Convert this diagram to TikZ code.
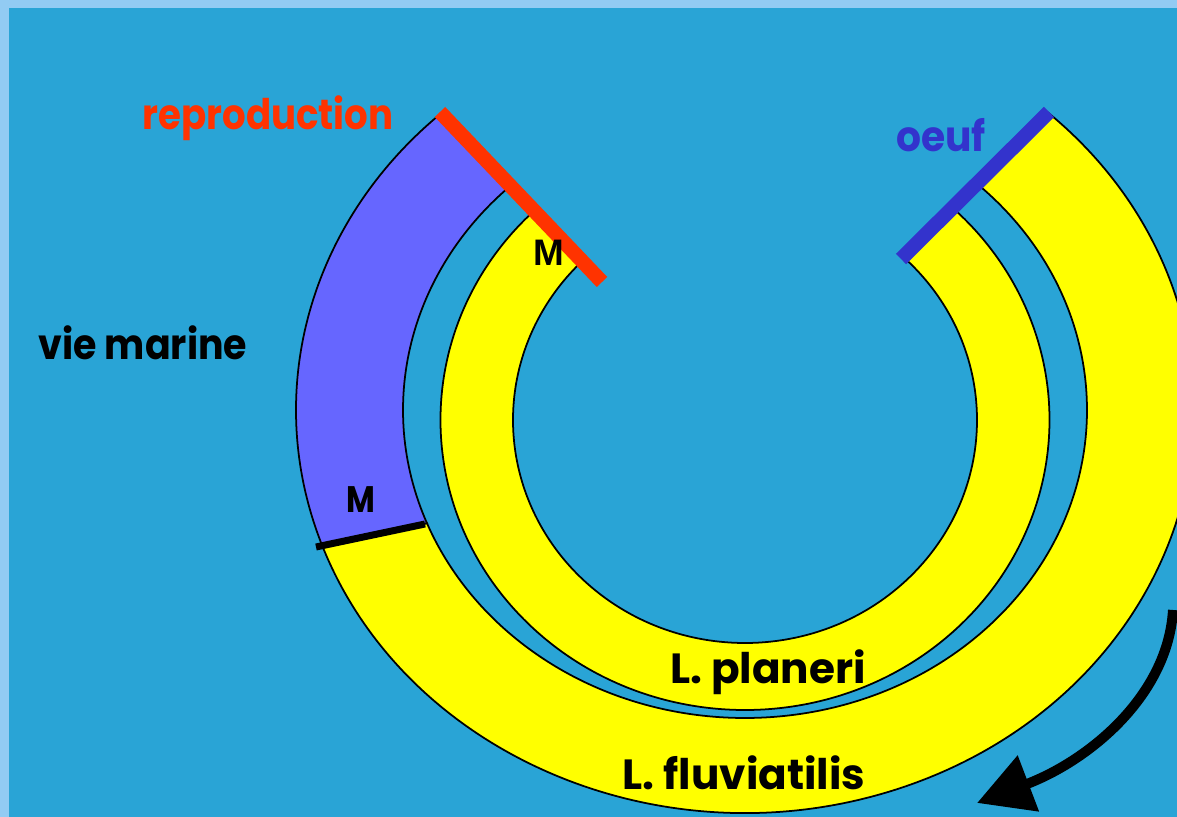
\documentclass[tikz,border=0pt]{standalone}
\usepackage{fontspec}
\setmainfont{Poppins}
\newfontfamily\arialfont{Liberation Sans}
\usetikzlibrary{arrows.meta}
\definecolor{seablue}{HTML}{29A4D6}
\definecolor{frameblue}{HTML}{92CBF3}
\definecolor{marinepurple}{HTML}{6666FF}
\definecolor{riveryellow}{HTML}{FFFF00}
\definecolor{reprored}{HTML}{FF3300}
\definecolor{eggblue}{HTML}{3333CC}

\begin{document}
\begin{tikzpicture}[x=0.2mm,y=0.2mm,
 lbl/.style={font=\fontsize{24}{28}\selectfont\bfseries,inner sep=0pt},
 narrow/.style={xscale=#1,transform shape},
 band/.style={draw=black,line width=1pt},
 bar/.style={line width=2.9mm},
 arr/.style={-{Triangle[length=11mm,width=11.5mm]},line width=2mm}]
% frame and sea
\fill[frameblue] (-745,-407) rectangle (432,410);
\fill[seablue] (-736,-407) rectangle (432,402);
\useasboundingbox (-745,-407) rectangle (432,410);
% L. fluviatilis: marine part, then river part
\fill[marinepurple,band] (133:449 and 403)
 arc[start angle=133,end angle=199.6,x radius=449,y radius=403]
 -- (201.6:342 and 308)
 arc[start angle=201.6,end angle=133,x radius=342,y radius=308] -- cycle;
\fill[riveryellow,band] (199.6:449 and 403)
 arc[start angle=199.6,end angle=407.5,x radius=449,y radius=403]
 -- (407.5:342 and 308)
 arc[start angle=407.5,end angle=201.6,x radius=342,y radius=308] -- cycle;
% L. planeri
\begin{scope}[shift={(0,-10)}]
\fill[riveryellow,band] (134:304.5 and 290)
 arc[start angle=134,end angle=407,x radius=304.5,y radius=290]
 -- (407:232 and 223)
 arc[start angle=407,end angle=134,x radius=232,y radius=223] -- cycle;
\end{scope}
% marks
\draw[bar,reprored] (-305,298) -- (-143,128);
\draw[bar,eggblue] (156,151) -- (304,298);
\draw[black,line width=1.4mm] (-429,-137) -- (-320,-114);
% labels
\node[lbl,narrow=0.88,text=reprored] (repro) at (-477,292) {reproduction};
\node[lbl,narrow=0.93,text=eggblue] (egg) at (196,275) {oeuf};
\node[lbl,narrow=0.9] (marine) at (-602,67) {vie marine};
\node[font=\arialfont\fontsize{21}{24}\selectfont\bfseries,inner sep=0pt] (mTop) at (-196,157) {M};
\node[lbl,font=\fontsize{21}{24}\selectfont\bfseries,narrow=0.85] (mLow) at (-384,-90) {M};
\node[lbl] (planeri) at (23,-262) {L. planeri};
\node[lbl] (fluv) at (-1,-363) {L. fluviatilis};
% direction of the cycle
\coordinate (cycStart) at (428,-200);
\coordinate (cycEnd) at (232,-393);
\draw[arr] (cycStart) .. controls (423,-285) and (345,-350) .. (cycEnd);
\end{tikzpicture}
\end{document}
